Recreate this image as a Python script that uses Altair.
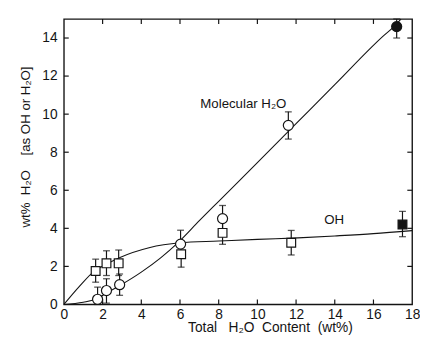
import altair as alt
import pandas as pd

# ---------------- data ----------------
# Molecular H2O (circles); last point is the filled one
mol_x = [1.74, 2.2, 2.88, 6.03, 8.2, 11.6, 17.2]
mol_y = [0.27, 0.73, 1.04, 3.17, 4.51, 9.41, 14.6]
mol_lo = [0.0, 0.07, 0.48, 2.5, 3.9, 8.69, 14.0]
mol_hi = [0.91, 1.35, 1.6, 3.9, 5.2, 10.12, 15.0]
mol_filled = [False, False, False, False, False, False, True]

# OH (squares); last point is the filled one
oh_x = [1.64, 2.2, 2.83, 6.06, 8.2, 11.75, 17.5]
oh_y = [1.76, 2.16, 2.16, 2.64, 3.76, 3.24, 4.2]
oh_lo = [1.17, 1.52, 1.52, 1.96, 3.16, 2.6, 3.56]
oh_hi = [2.38, 2.82, 2.86, 3.3, 4.4, 3.89, 4.89]
oh_filled = [False, False, False, False, False, False, True]

# fitted curves (as drawn)
mol_curve_x = [0, 1, 1.7, 2.2, 2.9, 4, 5, 5.9, 7, 8, 10, 12, 14, 16.5, 17.1, 17.42]
mol_curve_y = [0, 0.12, 0.3, 0.6, 1.0, 1.7, 2.45, 3.25, 4.4, 5.42, 7.45, 9.5, 11.55, 14.1, 14.64, 15.0]
oh_curve_x = [0, 0.8, 1.6, 2.2, 2.9, 4.4, 6, 8, 10, 12.1, 14, 16, 18]
oh_curve_y = [0, 0.95, 1.78, 2.12, 2.47, 2.98, 3.24, 3.33, 3.42, 3.5, 3.6, 3.72, 3.88]

x_tick_vals = [0, 2, 4, 6, 8, 10, 12, 14, 16, 18]
y_tick_vals = [0, 2, 4, 6, 8, 10, 12, 14]
inner_x_ticks = [2, 4, 6, 8, 10, 12, 14, 16]
inner_y_ticks = [2, 4, 6, 8, 10, 12, 14]

labels_text = ["Molecular H\u2082O", "OH"]
labels_x = [7.05, 13.45]
labels_y = [10.55, 4.45]

x_title = "Total\u00a0\u00a0\u00a0H\u2082O\u00a0\u00a0Content\u00a0\u00a0(wt%)"
y_title = "wt%\u00a0\u00a0H\u2082O\u00a0\u00a0\u00a0\u00a0[as OH or H\u2082O]"

# ---------------- chart ----------------
INK = "#141414"
FONT = "Liberation Sans"
XMAX, YMAX = 18, 15

xs = alt.Scale(domain=[0, XMAX], nice=False, zero=False)
ys = alt.Scale(domain=[0, YMAX], nice=False, zero=False)

xaxis = alt.Axis(values=x_tick_vals, ticks=False, domain=False, grid=False,
                 labelFontSize=14, labelPadding=3, labelFlush=False,
                 labelColor=INK, labelFont=FONT,
                 title=x_title, titleFont=FONT,
                 titleFontSize=14, titleFontWeight="normal", titleColor=INK,
                 titlePadding=0, titleX=210)
yaxis = alt.Axis(values=y_tick_vals, ticks=False, domain=False, grid=False,
                 labelFontSize=14, labelPadding=7, labelFlush=False,
                 labelColor=INK, labelFont=FONT,
                 title=y_title, titleFont=FONT,
                 titleFontSize=13.5, titleFontWeight="normal", titleColor=INK,
                 titlePadding=9, titleY=130)

def X(f):
    return alt.X(f, type="quantitative", scale=xs, axis=xaxis)

def Y(f):
    return alt.Y(f, type="quantitative", scale=ys, axis=yaxis)

mol_pts = pd.DataFrame({"x": mol_x, "y": mol_y, "lo": mol_lo, "hi": mol_hi, "filled": mol_filled})
oh_pts = pd.DataFrame({"x": oh_x, "y": oh_y, "lo": oh_lo, "hi": oh_hi, "filled": oh_filled})
mol_curve = pd.DataFrame({"x": mol_curve_x, "y": mol_curve_y})
oh_curve = pd.DataFrame({"x": oh_curve_x, "y": oh_curve_y})
labels = pd.DataFrame({"t": labels_text, "x": labels_x, "y": labels_y})

TL_X = 0.25  # inward tick length in data units
TL_Y = 0.26
bot_ticks = pd.DataFrame({"x": inner_x_ticks, "y": [0] * len(inner_x_ticks), "y2": [TL_Y] * len(inner_x_ticks)})
top_ticks = pd.DataFrame({"x": inner_x_ticks, "y": [YMAX] * len(inner_x_ticks), "y2": [YMAX - TL_Y] * len(inner_x_ticks)})
left_ticks = pd.DataFrame({"y": inner_y_ticks, "x": [0] * len(inner_y_ticks), "x2": [TL_X] * len(inner_y_ticks)})
right_ticks = pd.DataFrame({"y": inner_y_ticks, "x": [XMAX] * len(inner_y_ticks), "x2": [XMAX - TL_X] * len(inner_y_ticks)})

curves = [
    alt.Chart(d).mark_line(color=INK, strokeWidth=1.1, interpolate="monotone").encode(x=X("x"), y=Y("y"))
    for d in (mol_curve, oh_curve)
]

tick_layers = [
    alt.Chart(bot_ticks).mark_rule(color=INK, strokeWidth=1.2).encode(x=X("x"), y=Y("y"), y2="y2"),
    alt.Chart(top_ticks).mark_rule(color=INK, strokeWidth=1.2).encode(x=X("x"), y=Y("y"), y2="y2"),
    alt.Chart(left_ticks).mark_rule(color=INK, strokeWidth=1.2).encode(y=Y("y"), x=X("x"), x2="x2"),
    alt.Chart(right_ticks).mark_rule(color=INK, strokeWidth=1.2).encode(y=Y("y"), x=X("x"), x2="x2"),
]

err_layers = []
for d in (mol_pts, oh_pts):
    err_layers.append(alt.Chart(d).mark_rule(color=INK, strokeWidth=1.2).encode(x=X("x"), y=Y("lo"), y2="hi"))
    err_layers.append(alt.Chart(d).mark_tick(color=INK, orient="horizontal", size=7, thickness=1.3).encode(x=X("x"), y=Y("lo")))
    err_layers.append(alt.Chart(d).mark_tick(color=INK, orient="horizontal", size=7, thickness=1.3).encode(x=X("x"), y=Y("hi")))

fill_scale = alt.Scale(domain=[False, True], range=["white", INK])
circles = alt.Chart(mol_pts).mark_point(shape="circle", size=105, stroke=INK, strokeWidth=1.2, opacity=1).encode(
    x=X("x"), y=Y("y"), fill=alt.Fill("filled:N", scale=fill_scale, legend=None))
squares = alt.Chart(oh_pts).mark_point(shape="square", size=80, stroke=INK, strokeWidth=1.2, opacity=1).encode(
    x=X("x"), y=Y("y"), fill=alt.Fill("filled:N", scale=fill_scale, legend=None))

text = alt.Chart(labels).mark_text(align="left", baseline="middle", font=FONT, fontSize=13.5, color=INK).encode(
    x=X("x"), y=Y("y"), text="t:N")

chart = alt.layer(*curves, *tick_layers, *err_layers, circles, squares, text).properties(
    width=355, height=291,
    autosize=alt.AutoSizeParams(type="none"),
    padding={"left": 57, "top": 8, "right": 8, "bottom": 31},
    background="white",
).configure_view(stroke=INK, strokeWidth=1.4)

chart.save("out.html", embed_options={"renderer": "svg", "actions": False})
